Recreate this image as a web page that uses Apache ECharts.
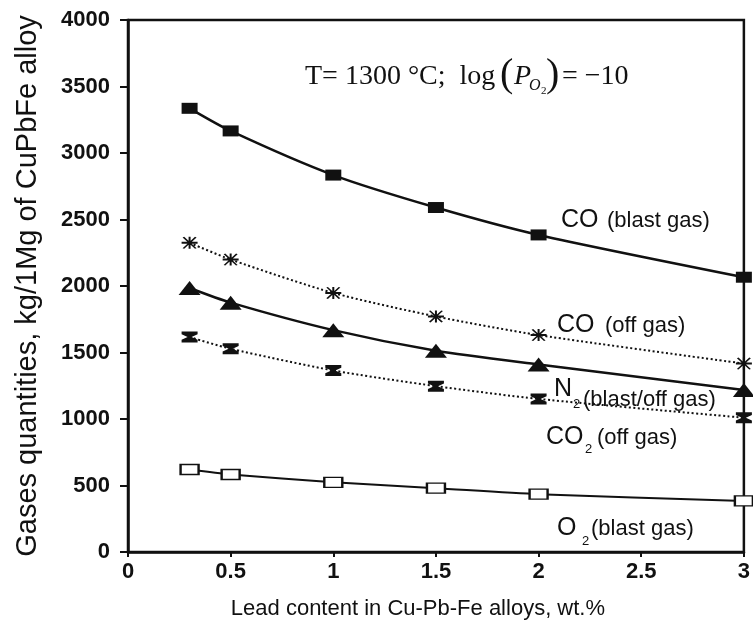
<!DOCTYPE html>
<html>
<head>
<meta charset="utf-8">
<script src="https://cdn.jsdelivr.net/npm/echarts@6/dist/echarts.min.js"></script>
<style>
  html, body { margin: 0; padding: 0; background: #ffffff; }
  #chart { width: 753px; height: 625px; }
</style>
</head>
<body>
<div id="chart"></div>
<script>
// lead content, wt.%
const leadContent = [0.3, 0.5, 1, 1.5, 2, 3]
// gases quantities, kg per 1 Mg of alloy
const coBlast = [3336, 3166, 2834, 2590, 2384, 2066]
const coOff = [2325, 2199, 1948, 1771, 1631, 1417]
const n2BlastOff = [1985, 1875, 1668, 1513, 1410, 1218]
const co2Off = [1616, 1528, 1365, 1247, 1151, 1010]
const o2Blast = [620, 583, 524, 480, 435, 384]

const xAxisRange = [0, 3, 0.5]
const yAxisRange = [0, 4000, 500]

const ink = "#111111"
const sans = "Liberation Sans"
const serif = "Liberation Serif"

const asterisk = "path://M0,5 L16,5 L16,7 L0,7 Z M7,0 L9,0 L9,12 L7,12 Z M1,0.6 L2.6,0 L15,11.4 L13.4,12 Z M13.4,0 L15,0.6 L2.6,12 L1,11.4 Z"
const hourglass = "path://M0,0 L16,0 L16,2.5 L10,5 L16,7.5 L16,10 L0,10 L0,7.5 L6,5 L0,2.5 Z"

function pairs(ys) {
  return leadContent.map((x, i) => [x, ys[i]])
}

function line(name, ys, opts) {
  return Object.assign({
    name,
    type: "line",
    data: pairs(ys),
    smooth: 0.25,
    itemStyle: { color: ink },
    emphasis: { disabled: true },
    z: 3
  }, opts)
}

function txt(x, y, text, size, extra) {
  return {
    type: "text",
    x, y,
    style: Object.assign({
      text,
      fill: ink,
      font: size + "px '" + sans + "'",
      textAlign: "left",
      textVerticalAlign: "middle"
    }, extra || {}),
    z: 10
  }
}

const chart = echarts.init(document.getElementById("chart"))
chart.setOption({
  backgroundColor: "#ffffff",
  animation: false,
  grid: {
    left: 128,
    right: 8,
    top: 20,
    bottom: 63,
    show: true,
    borderColor: ink,
    borderWidth: 2.5
  },
  xAxis: {
    type: "value",
    min: xAxisRange[0],
    max: xAxisRange[1],
    interval: xAxisRange[2],
    name: "Lead content in Cu-Pb-Fe alloys, wt.%",
    nameLocation: "middle",
    nameGap: 46,
    nameTextStyle: { fontFamily: sans, fontSize: 22, color: ink, padding: [0, 36, 0, 0] },
    axisLine: { lineStyle: { color: ink, width: 2.5 } },
    axisTick: { inside: false, length: 5, lineStyle: { color: ink, width: 2 } },
    axisLabel: { fontFamily: sans, fontSize: 22, fontWeight: "bold", color: ink, margin: 9 },
    splitLine: { show: false }
  },
  yAxis: {
    type: "value",
    min: yAxisRange[0],
    max: yAxisRange[1],
    interval: yAxisRange[2],
    name: "Gases quantities, kg/1Mg of CuPbFe alloy",
    nameLocation: "middle",
    nameGap: 86,
    nameTextStyle: { fontFamily: sans, fontSize: 29, color: ink },
    axisLine: { lineStyle: { color: ink, width: 2.5 } },
    axisTick: { inside: false, length: 8, lineStyle: { color: ink, width: 2 } },
    axisLabel: {
      fontFamily: sans, fontSize: 22, fontWeight: "bold", color: ink, margin: 18,
      formatter: v => String(v)
    },
    splitLine: { show: false }
  },
  series: [
    line("CO (blast gas)", coBlast, {
      symbol: "rect", symbolSize: [16, 11],
      lineStyle: { color: ink, width: 2.5 }
    }),
    line("CO (off gas)", coOff, {
      symbol: asterisk, symbolSize: [16, 12],
      lineStyle: { color: ink, width: 2, type: [2, 2.5] }
    }),
    line("N2 (blast/off gas)", n2BlastOff, {
      symbol: "triangle", symbolSize: [22, 14],
      lineStyle: { color: ink, width: 2.5 }
    }),
    line("CO2 (off gas)", co2Off, {
      symbol: hourglass, symbolSize: [16, 11],
      lineStyle: { color: ink, width: 2, type: [2, 2.5] }
    }),
    line("O2 (blast gas)", o2Blast, {
      symbol: "rect", symbolSize: [18, 10],
      itemStyle: { color: "#ffffff", borderColor: ink, borderWidth: 1.8 },
      lineStyle: { color: ink, width: 2 }
    })
  ],
  graphic: [
    // condition note
    txt(305, 77, "T= 1300 °C;  log", 28, { font: "28px '" + serif + "'" }),
    txt(500, 75, "(", 28, { font: "40px '" + serif + "'" }),
    txt(514, 77, "P", 28, { font: "italic 28px '" + serif + "'" }),
    txt(529, 86, "O", 16, { font: "italic 16px '" + serif + "'" }),
    txt(541, 91, "2", 11, { font: "11px '" + serif + "'" }),
    txt(546, 75, ")", 28, { font: "40px '" + serif + "'" }),
    txt(562, 77, "= −10", 28, { font: "28px '" + serif + "'" }),
    // curve labels
    txt(561, 220, "CO", 25),
    txt(607, 221, "(blast gas)", 22),
    txt(557, 325, "CO", 25),
    txt(605, 326, "(off gas)", 22),
    txt(554, 389, "N", 25),
    txt(573, 404, "2", 13),
    txt(583, 400, "(blast/off gas)", 22),
    txt(546, 437, "CO", 25),
    txt(585, 449, "2", 13),
    txt(597, 438, "(off gas)", 22),
    txt(557, 528, "O", 25),
    txt(582, 541, "2", 13),
    txt(591, 529, "(blast gas)", 22)
  ]
})
</script>
</body>
</html>
